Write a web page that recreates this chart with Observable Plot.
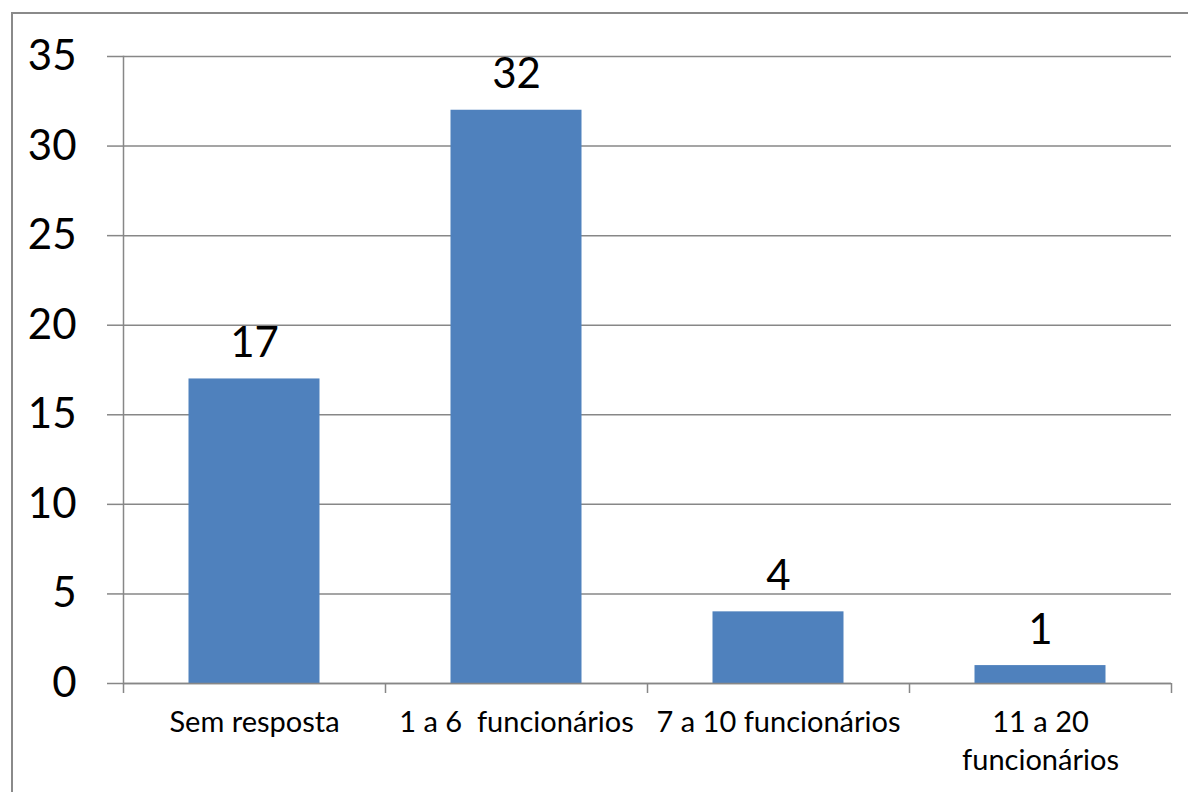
<!DOCTYPE html>
<html>
<head>
<meta charset="utf-8">
<script src="https://cdn.jsdelivr.net/npm/d3@7"></script>
<script src="https://cdn.jsdelivr.net/npm/@observablehq/plot@0.6"></script>
<style>
  html, body { margin: 0; padding: 0; background: #fff; overflow: hidden; }
  #wrap { position: relative; width: 1188px; height: 792px; }
  #border { position: absolute; left: 11px; top: 12px; width: 1200px; height: 800px;
            border: 2px solid #8a8a8a; box-sizing: border-box; pointer-events: none; }
</style>
</head>
<body>
<div id="wrap"><div id="border"></div></div>
<script>
const categories = ["Sem resposta", "1 a 6  funcionários", "7 a 10 funcionários", "11 a 20\nfuncionários"];
const values = [17, 32, 4, 1];
const yTicks = [0, 5, 10, 15, 20, 25, 30, 35];

const data = categories.map((c, i) => ({ category: c, index: i, value: values[i] }));
const boundaries = d3.range(categories.length + 1);
const centers = categories.map((_, i) => i + 0.5);

const chart = Plot.plot({
  width: 1188,
  height: 792,
  marginLeft: 123,
  marginRight: 17,
  marginTop: 56,
  marginBottom: 109,
  style: { fontFamily: "Lato, 'Open Sans', sans-serif", background: "transparent", overflow: "visible" },
  x: { type: "linear", domain: [0, categories.length] },
  y: { domain: [0, 35] },
  marks: [
    Plot.gridY(yTicks, { stroke: "#878787", strokeOpacity: 1, strokeWidth: 1.5 }),
    Plot.axisY(yTicks, { tickSize: 16, tickPadding: 31, stroke: "#878787", strokeWidth: 1.5, fontSize: 42, fill: "#000", label: null }),
    Plot.rectY(data, { x1: "index", x2: d => d.index + 1, y: "value", fill: "#4F81BD", insetLeft: 65.5, insetRight: 65.5 }),
    Plot.ruleY([0], { stroke: "#878787", strokeWidth: 1.5 }),
    Plot.frame({ anchor: "left", stroke: "#878787", strokeWidth: 1.5 }),
    Plot.axisX(boundaries, { tickSize: 10, tickFormat: () => "", stroke: "#878787", strokeWidth: 1.5, label: null }),
    Plot.axisX(centers, { tickSize: 0, tickPadding: 22, tickFormat: (d, i) => categories[i], fontSize: 29, fill: "#000", lineHeight: 1.3, label: null }),
    Plot.text(data, { x: d => d.index + 0.5, y: "value", text: d => String(d.value), fontSize: 42, fill: "#000", lineAnchor: "bottom", dy: -22 })
  ]
});
document.getElementById("wrap").prepend(chart);
</script>
</body>
</html>
